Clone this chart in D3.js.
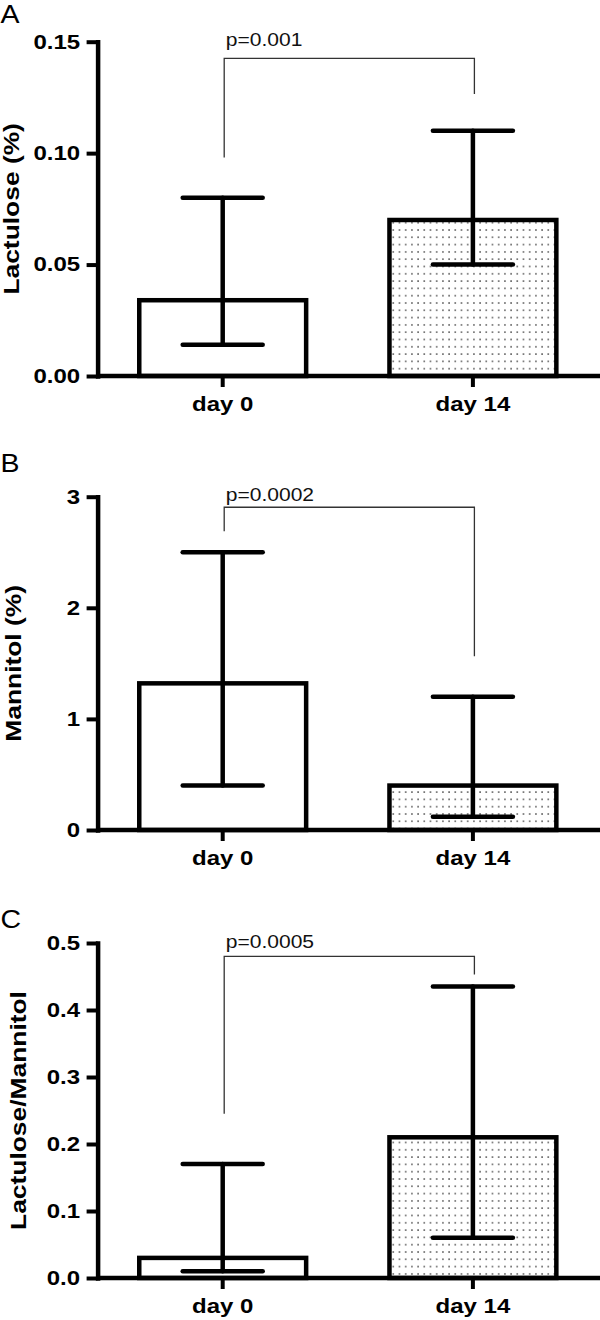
<!DOCTYPE html>
<html>
<head>
<meta charset="utf-8">
<script src="https://cdn.jsdelivr.net/npm/d3@7"></script>
<style>
  html, body { margin: 0; padding: 0; background: #fff; }
  svg { display: block; font-family: "Liberation Sans", Arial, sans-serif; }
</style>
</head>
<body>
<svg id="chart" width="600" height="1320"></svg>
<script>
// ---------------- data ----------------
const categories = ["day 0", "day 14"];
const panelLetters = ["A", "B", "C"];
const yTitles = ["Lactulose (%)", "Mannitol (%)", "Lactulose/Mannitol"];

const lactuloseMean  = [0.034, 0.070];
const lactuloseLower = [0.014, 0.050];
const lactuloseUpper = [0.080, 0.110];

const mannitolMean  = [1.32, 0.40];
const mannitolLower = [0.40, 0.12];
const mannitolUpper = [2.50, 1.20];

const ratioMean  = [0.030, 0.210];
const ratioLower = [0.010, 0.060];
const ratioUpper = [0.170, 0.435];

const lactuloseTicks = [0, 0.05, 0.10, 0.15];
const mannitolTicks  = [0, 1, 2, 3];
const ratioTicks     = [0, 0.1, 0.2, 0.3, 0.4, 0.5];
const lactuloseTickLabels = ["0.00", "0.05", "0.10", "0.15"];
const mannitolTickLabels  = ["0", "1", "2", "3"];
const ratioTickLabels     = ["0.0", "0.1", "0.2", "0.3", "0.4", "0.5"];

const pLabels = ["p=0.001", "p=0.0002", "p=0.0005"];
const bracketTop      = [0.1425, 2.905, 0.480];
const bracketLeftEnd  = [0.098, 2.69, 0.245];
const bracketRightEnd = [0.1265, 1.563, 0.453];

// ---------------- layout ----------------
const panels = [
  { mean: lactuloseMean, lower: lactuloseLower, upper: lactuloseUpper, ticks: lactuloseTicks, tickLabels: lactuloseTickLabels, yMax: 0.15,
    yRange: [376, 41.7], titleX: 19, letterY: 23 },
  { mean: mannitolMean, lower: mannitolLower, upper: mannitolUpper, ticks: mannitolTicks, tickLabels: mannitolTickLabels, yMax: 3,
    yRange: [830, 496.7], titleX: 20.5, letterY: 472 },
  { mean: ratioMean, lower: ratioLower, upper: ratioUpper, ticks: ratioTicks, tickLabels: ratioTickLabels, yMax: 0.5,
    yRange: [1278, 943], titleX: 26, letterY: 928 }
];

const svg = d3.select("#chart");
const defs = svg.append("defs");
const pat = defs.append("pattern").attr("id", "dots")
  .attr("patternUnits", "userSpaceOnUse").attr("width", 6.2).attr("height", 7.3);
pat.append("rect").attr("width", 6.2).attr("height", 7.3).attr("fill", "#fff");
pat.append("rect").attr("x", 2).attr("y", 3).attr("width", 1.4).attr("height", 1.4).attr("fill", "#333");

const barFills = ["#fff", "url(#dots)"];
const TX = 1.2; // horizontal stretch of glyphs in the reference

const x = d3.scaleBand().domain(categories).range([97.6, 598]);
const cx = c => x(c) + x.bandwidth() / 2;
const barW = x.bandwidth() * 0.667;
const capHalf = 40;

panels.forEach((p, i) => {
  const y = d3.scaleLinear().domain([0, p.yMax]).range(p.yRange);
  const g = svg.append("g");
  const y0 = y(0);

  // bars
  g.selectAll("rect.bar").data(categories).join("rect")
    .attr("class", "bar")
    .attr("x", c => cx(c) - barW / 2)
    .attr("width", barW)
    .attr("y", (c, j) => y(p.mean[j]))
    .attr("height", (c, j) => y0 - y(p.mean[j]))
    .attr("fill", (c, j) => barFills[j])
    .attr("stroke", "#000").attr("stroke-width", 4.5);

  // error bars
  const eg = g.selectAll("g.err").data(categories).join("g").attr("class", "err")
    .attr("stroke", "#000").attr("stroke-width", 4.5).attr("stroke-linecap", "round");
  eg.append("line").attr("x1", c => cx(c)).attr("x2", c => cx(c))
    .attr("y1", (c, j) => y(p.lower[j])).attr("y2", (c, j) => y(p.upper[j]));
  eg.append("line").attr("x1", c => cx(c) - capHalf).attr("x2", c => cx(c) + capHalf)
    .attr("y1", (c, j) => y(p.upper[j])).attr("y2", (c, j) => y(p.upper[j]));
  eg.append("line").attr("x1", c => cx(c) - capHalf).attr("x2", c => cx(c) + capHalf)
    .attr("y1", (c, j) => y(p.lower[j])).attr("y2", (c, j) => y(p.lower[j]));

  // y axis
  const yAxis = d3.axisLeft(y).tickValues(p.ticks)
    .tickFormat((d, k) => p.tickLabels[k]).tickSize(11).tickSizeOuter(0).tickPadding(6.5);
  const ya = g.append("g").attr("transform", "translate(97.6,0)").call(yAxis);
  ya.select(".domain").attr("stroke-width", 4.5).attr("stroke-linecap", "square");
  ya.selectAll(".tick line").attr("stroke-width", 4);
  ya.selectAll(".tick text").each(function () {
    const t = d3.select(this);
    const xx = +t.attr("x");
    t.attr("x", 0).attr("transform", `translate(${xx},0) scale(${TX},1)`);
  }).attr("font-size", 20).attr("font-weight", "bold").attr("fill", "#000")
    .attr("font-family", "Liberation Sans, Arial, sans-serif");

  // x axis
  const xAxis = d3.axisBottom(x).tickSize(11).tickSizeOuter(0).tickPadding(10);
  const xa = g.append("g").attr("transform", `translate(0,${y0})`).call(xAxis);
  xa.select(".domain").attr("d", "M97.6,0H600").attr("stroke-width", 4.5);
  xa.selectAll(".tick line").attr("stroke-width", 4);
  xa.selectAll(".tick text").each(function () {
    const t = d3.select(this);
    const yy = +t.attr("y");
    t.attr("y", 0).attr("transform", `translate(0,${yy}) scale(${TX},1)`);
  }).attr("font-size", 20).attr("font-weight", "bold").attr("fill", "#000")
    .attr("font-family", "Liberation Sans, Arial, sans-serif");

  // significance bracket
  const bx1 = cx(categories[0]) + 1.5, bx2 = cx(categories[1]) + 1.5;
  g.append("path")
    .attr("d", `M${bx1},${y(bracketLeftEnd[i])}V${y(bracketTop[i])}H${bx2}V${y(bracketRightEnd[i])}`)
    .attr("fill", "none").attr("stroke", "#333").attr("stroke-width", 1.3);
  g.append("text")
    .attr("transform", `translate(${bx1 + 1.5},${p.yRange[1] + 4.5}) scale(1.17,1)`)
    .attr("font-size", 18).attr("fill", "#111")
    .text(pLabels[i]);

  // y title
  g.append("text")
    .attr("transform", `translate(${p.titleX},${(p.yRange[0] + p.yRange[1]) / 2}) rotate(-90) scale(${TX},1)`)
    .attr("text-anchor", "middle").attr("font-size", 22).attr("font-weight", "bold").attr("fill", "#000")
    .text(yTitles[i]);

  // panel letter
  g.append("text")
    .attr("transform", `translate(0.5,${p.letterY}) scale(1.14,1)`)
    .attr("font-size", 25).attr("fill", "#000")
    .text(panelLetters[i]);
});
</script>
</body>
</html>
